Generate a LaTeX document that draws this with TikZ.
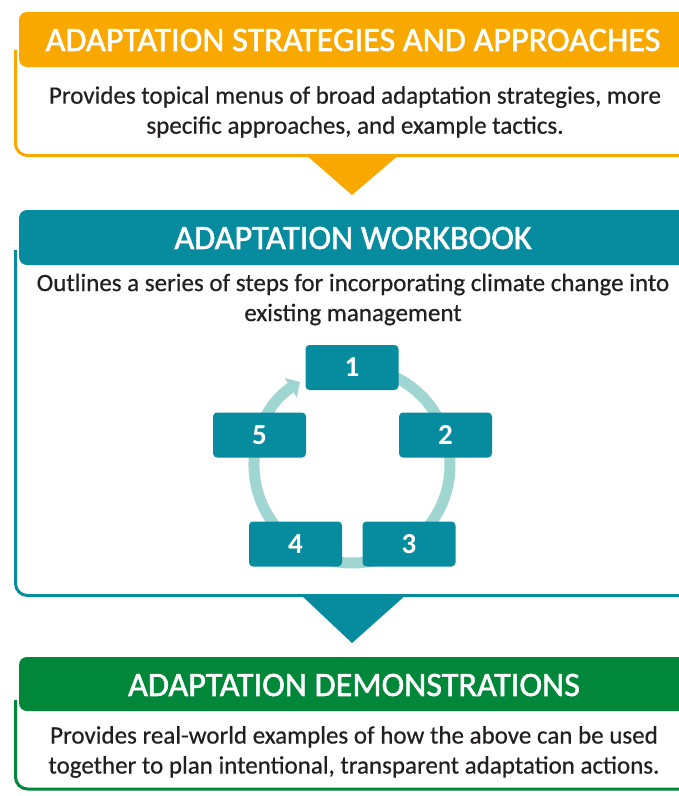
\documentclass[tikz,border=0pt]{standalone}
\usepackage{fontspec}
\setmainfont{Carlito}
\newfontfamily\hdrfont[FakeBold=1.6]{Carlito}
\newfontfamily\bodyfont[FakeBold=0.5]{Carlito}
\usetikzlibrary{arrows.meta}
\definecolor{orng}{HTML}{F9A800}
\definecolor{tealA}{HTML}{078B9F}
\definecolor{grn}{HTML}{00873A}
\definecolor{ringc}{HTML}{9FD6D1}
\definecolor{txt}{HTML}{231F1F}
\tikzset{
  hdrtext/.style={text=white, font=\hdrfont\fontsize{34.2}{40}\selectfont, inner sep=0pt},
  bodytext/.style={text=txt, font=\bodyfont\fontsize{25}{30}\selectfont, align=center, inner sep=0pt},
  frame/.style={line width=3pt, rounded corners=12pt},
  hdrbox/.style={rounded corners=8pt},
  stepbox/.style={fill=tealA, rounded corners=4pt, minimum width=93pt, minimum height=45pt,
    text=white, font=\fontsize{29}{32}\selectfont\bfseries, inner sep=0pt},
  ring/.style={ringc, line width=11pt}
}
\begin{document}
\begin{tikzpicture}[x=1pt,y=-1pt]
\useasboundingbox (0,0) rectangle (679,796);
\clip (0,0) rectangle (679,796);
\fill[white] (0,0) rectangle (679,796);

% ---- top block
\draw[orng, frame] (15.5,50) -- (15.5,155.5) -- (700,155.5);
\fill[orng, hdrbox] (19,12) rectangle (700,67);
\node[hdrtext] (h1) at (353,40) {ADAPTATION STRATEGIES AND APPROACHES};
\node[bodytext] (b1) at (355,112) {Provides topical menus of broad adaptation strategies, more\\specific approaches, and example tactics.};
\fill[orng] (305,154) -- (400,154) -- (352,195) -- cycle;

% ---- workbook block
\draw[tealA, frame] (15.5,250) -- (15.5,595.5) -- (700,595.5);
\fill[tealA, hdrbox] (19,210) rectangle (700,265);
\node[hdrtext] (h2) at (353,238) {ADAPTATION WORKBOOK};
\node[bodytext] (b2) at (353,299.5) {Outlines a series of steps for incorporating climate change into\\existing management};
\fill[tealA] (300,594) -- (407,594) -- (352,643) -- cycle;

% ---- cycle
\coordinate (cc) at (352,465);
\draw[ring, -{Triangle[width=22pt,length=11pt]}] (cc) ++(-100:98) arc[start angle=-100, end angle=238, radius=98];
\node[stepbox] (s1) at (352,367.5) {1};
\node[stepbox] (s2) at (445.5,435) {2};
\node[stepbox] (s3) at (409,544) {3};
\node[stepbox] (s4) at (295.5,544) {4};
\node[stepbox] (s5) at (259.5,435) {5};

% ---- demonstrations block
\draw[grn, frame] (15.5,700) -- (15.5,789) -- (700,789);
\fill[grn, hdrbox] (19,657) rectangle (700,711);
\node[hdrtext] (h3) at (354,685) {ADAPTATION DEMONSTRATIONS};
\node[bodytext] (b3) at (354,752) {Provides real-world examples of how the above can be used\\together to plan intentional, transparent adaptation actions.};
\end{tikzpicture}
\end{document}
